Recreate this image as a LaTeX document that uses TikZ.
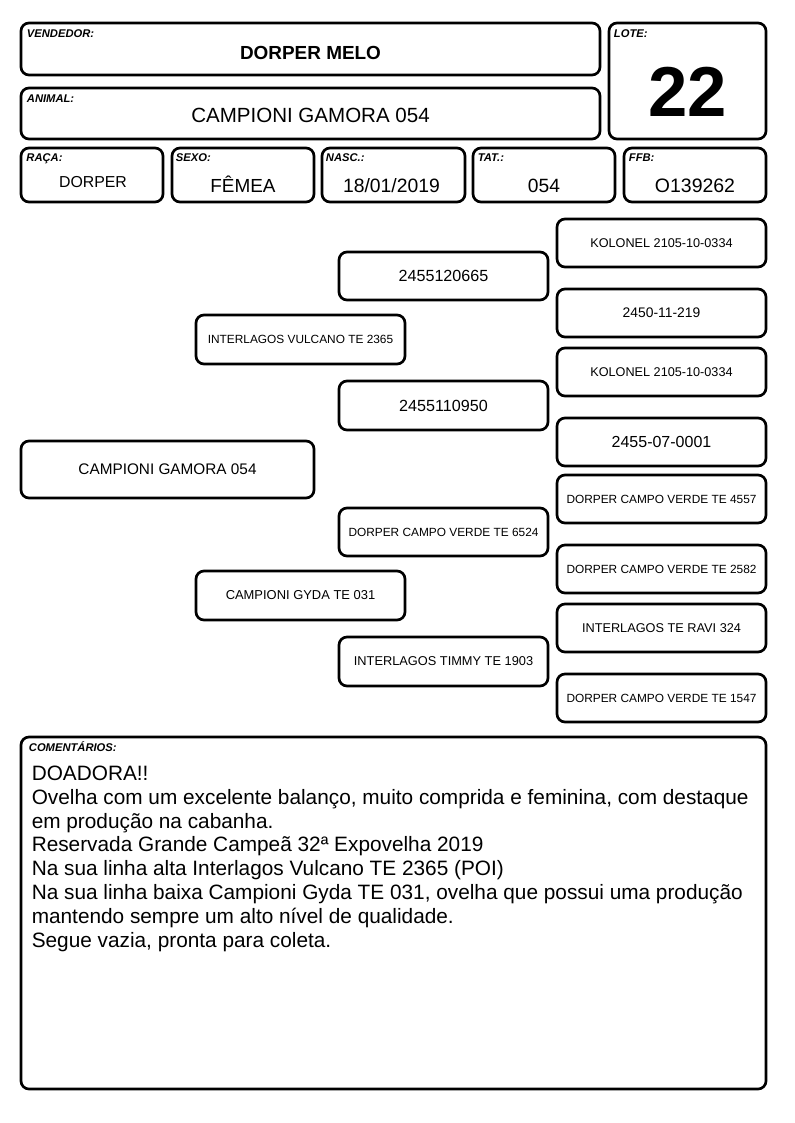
\documentclass[tikz,border=0pt]{standalone}
\usepackage{fontspec}
\setmainfont{Liberation Sans}

\newcommand{\fs}[1]{\fontsize{#1}{#1}\selectfont}
\tikzset{
	cell/.style 2 args={draw, line width=2pt, rounded corners=6pt, inner sep=0pt,
		minimum width=#1*0.75pt, minimum height=#2*0.75pt},
	tag/.style={font=\fs{8.4}\bfseries\itshape, inner sep=0pt, anchor=base west},
	val/.style={inner sep=0pt},
}

\begin{document}
\begin{tikzpicture}[x=0.75pt, y=-0.75pt]
		\useasboundingbox (0,0) rectangle (794,1123);
		% cabecalho
		\node[cell={579}{52}] (vend) at (310.5, 49) {};
		\node[cell={579}{51}] (anim) at (310.5, 113.5) {};
		\node[cell={157}{116}] (lote) at (687.5, 81) {};
		\node[cell={142}{54}] (raca) at (92, 175) {};
		\node[cell={142}{54}] (sexo) at (243, 175) {};
		\node[cell={143}{54}] (nasc) at (393.5, 175) {};
		\node[cell={142}{54}] (tat) at (544, 175) {};
		\node[cell={142}{54}] (ffb) at (695, 175) {};
		\node[tag] (vendtag) at ([shift={(7,16)}]vend.north west) {VENDEDOR:};
		\node[tag] (animtag) at ([shift={(7,16)}]anim.north west) {ANIMAL:};
		\node[tag] (lotetag) at ([shift={(6,16)}]lote.north west) {LOTE:};
		\node[tag] (racatag) at ([shift={(6.5,15)}]raca.north west) {RAÇA:};
		\node[tag] (sexotag) at ([shift={(5,15)}]sexo.north west) {SEXO:};
		\node[tag] (nasctag) at ([shift={(5,15)}]nasc.north west) {NASC.:};
		\node[tag] (tattag) at ([shift={(6,15)}]tat.north west) {TAT.:};
		\node[tag] (ffbtag) at ([shift={(6,15)}]ffb.north west) {FFB:};
		\node[val, font=\fs{14.2}\bfseries] (vendval) at (310.5, 53) {DORPER MELO};
		\node[val, font=\fs{15.4}] (animval) at (310.5, 115.5) {CAMPIONI GAMORA 054};
		\node[val, font=\fs{53}\bfseries] (loteval) at (687.5, 91.5) {22};
		\node[val, font=\fs{11.9}] (racaval) at (93, 182) {DORPER};
		\node[val, font=\fs{14.2}, anchor=base] (sexoval) at (243, 193) {FÊMEA};
		\node[val, font=\fs{14.5}] (nascval) at (391.5, 186) {18/01/2019};
		\node[val, font=\fs{14.4}] (tatval) at (544, 185.5) {054};
		\node[val, font=\fs{14.6}] (ffbval) at (695, 185.5) {O139262};
		% genealogia
		\node[cell={293}{57}, font=\fs{11.5}] (gamora) at (167.5, 469.5) {CAMPIONI GAMORA 054};
		\node[cell={209}{49}, font=\fs{8.9}] (pai) at (300.5, 339.5) {INTERLAGOS VULCANO TE 2365};
		\node[cell={209}{49}, font=\fs{9.7}] (mae) at (300.5, 595.5) {CAMPIONI GYDA TE 031};
		\node[cell={209}{48}, font=\fs{12.1}] (avo1) at (443.5, 276) {2455120665};
		\node[cell={209}{49}, font=\fs{12.1}] (avo2) at (443.5, 405.5) {2455110950};
		\node[cell={209}{48}, font=\fs{8.9}] (avo3) at (443.5, 532) {DORPER CAMPO VERDE TE 6524};
		\node[cell={209}{49}, font=\fs{9.6}] (avo4) at (443.5, 661.5) {INTERLAGOS TIMMY TE 1903};
		\node[cell={209}{48}, font=\fs{9.5}] (bis1) at (661.5, 243) {KOLONEL 2105-10-0334};
		\node[cell={209}{48}, font=\fs{10.4}] (bis2) at (661.5, 313) {2450-11-219};
		\node[cell={209}{48}, font=\fs{9.5}] (bis3) at (661.5, 372) {KOLONEL 2105-10-0334};
		\node[cell={209}{48}, font=\fs{12}] (bis4) at (661.5, 442) {2455-07-0001};
		\node[cell={209}{48}, font=\fs{8.9}] (bis5) at (661.5, 499) {DORPER CAMPO VERDE TE 4557};
		\node[cell={209}{48}, font=\fs{8.9}] (bis6) at (661.5, 569) {DORPER CAMPO VERDE TE 2582};
		\node[cell={209}{48}, font=\fs{9.55}] (bis7) at (661.5, 628) {INTERLAGOS TE RAVI 324};
		\node[cell={209}{48}, font=\fs{8.9}] (bis8) at (661.5, 698) {DORPER CAMPO VERDE TE 1547};
		% comentarios
		\node[cell={745}{352}] (coment) at (393.5, 913) {};
		\node[tag] (comenttag) at ([shift={(9,16)}]coment.north west) {COMENTÁRIOS:};
		\node[val, anchor=north west, align=left, font=\fontsize{15.6}{17.9}\selectfont] (comenttxt) at (31.5, 765.5)
		{DOADORA!!\\
		Ovelha com um excelente balanço, muito comprida e feminina, com destaque\\
		em produção na cabanha.\\
		Reservada Grande Campeã 32ª Expovelha 2019\\
		Na sua linha alta Interlagos Vulcano TE 2365 (POI)\\
		Na sua linha baixa Campioni Gyda TE 031, ovelha que possui uma produção\\
		mantendo sempre um alto nível de qualidade.\\
		Segue vazia, pronta para coleta.};
	\end{tikzpicture}
\end{document}
